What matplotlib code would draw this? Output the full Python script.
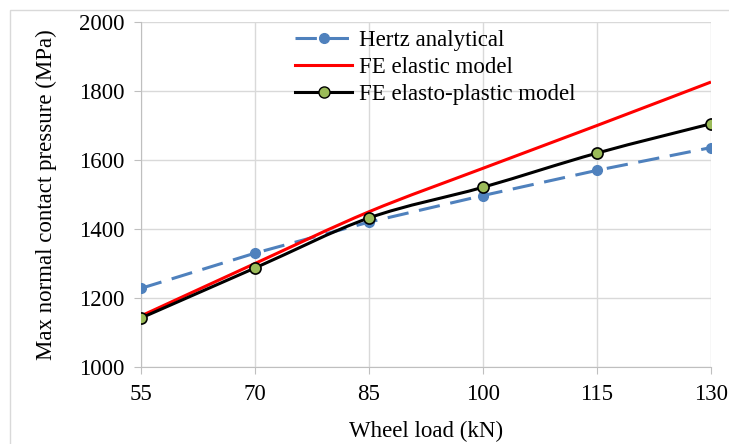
import numpy as np
import matplotlib
matplotlib.use('Agg')
import matplotlib.pyplot as plt
from matplotlib.path import Path
from matplotlib.patches import PathPatch, Rectangle
from matplotlib.lines import Line2D

plt.rcParams['font.family'] = ['Liberation Serif', 'DejaVu Serif']

load = [55, 70, 85, 100, 115, 130]
hertz = [1228, 1330, 1420, 1497, 1570, 1636]
fe_elastic = [1148, 1300, 1450, 1576, 1700, 1826]
fe_plastic = [1142, 1287, 1432, 1521, 1620, 1705]


def smooth_path(x, y, t=1.0 / 6):
    # Excel-like smoothed line: Bezier through the points
    x = np.asarray(x, float)
    y = np.asarray(y, float)
    verts = [(x[0], y[0])]
    codes = [Path.MOVETO]
    n = len(x)
    for i in range(n - 1):
        i0 = max(i - 1, 0)
        i3 = min(i + 2, n - 1)
        c1 = (x[i] + (x[i + 1] - x[i0]) * t, y[i] + (y[i + 1] - y[i0]) * t)
        c2 = (x[i + 1] - (x[i3] - x[i]) * t, y[i + 1] - (y[i3] - y[i]) * t)
        verts += [c1, c2, (x[i + 1], y[i + 1])]
        codes += [Path.CURVE4] * 3
    return Path(verts, codes)


fig = plt.figure(figsize=(7.29, 4.44), dpi=100)
ax = fig.add_axes([141 / 729, 1 - 367 / 444, 570 / 729, 345 / 444])

fig.patches.append(Rectangle((10 / 729, -0.1), 1.2, 1 - 10 / 444 + 0.1,
                             transform=fig.transFigure, fill=False,
                             edgecolor='#d9d9d9', linewidth=1))

ax.set_xlim(55, 130)
ax.set_ylim(1000, 2000)
ax.set_xticks(load)
ax.set_yticks(np.arange(1000, 2001, 200))
ax.grid(True, color='#d9d9d9', linewidth=1)
ax.set_axisbelow(True)
for s in ['top', 'right']:
    ax.spines[s].set_visible(False)
for s in ['left', 'bottom']:
    ax.spines[s].set_color('#bfbfbf')
ax.tick_params(direction='out', length=5, color='#bfbfbf', labelsize=16.5, pad=7)

ax.plot(load, hertz, color='#4f81bd', linewidth=2.2, dashes=(7, 3.5),
        marker='o', markersize=7, zorder=3)
ax.add_patch(PathPatch(smooth_path(load, fe_elastic), fill=False,
                       edgecolor='#ff0000', linewidth=2.2, zorder=4))
ax.add_patch(PathPatch(smooth_path(load, fe_plastic), fill=False,
                       edgecolor='black', linewidth=2.2, zorder=5))
ax.plot(load, fe_plastic, linestyle='none', marker='o', markersize=8,
        markerfacecolor='#9bbb59', markeredgecolor='black', markeredgewidth=1.2,
        zorder=6)

ax.set_xlabel('Wheel load (kN)', fontsize=16.5, labelpad=12)
ax.set_ylabel('Max normal contact pressure (MPa)', fontsize=16.5, labelpad=16)

handles = [
    Line2D([], [], color='#4f81bd', linewidth=2.2, dashes=(7, 3.5),
           marker='o', markersize=7),
    Line2D([], [], color='#ff0000', linewidth=2.2),
    Line2D([], [], color='black', linewidth=2.2, marker='o', markersize=8,
           markerfacecolor='#9bbb59', markeredgecolor='black'),
]
labels = ['Hertz analytical', 'FE elastic model', 'FE elasto-plastic model']
ax.legend(handles, labels, loc='upper left', bbox_to_anchor=(0.25, 1.01),
          frameon=False, fontsize=16.5, handlelength=2.5, handletextpad=0.3,
          labelspacing=0.25, borderaxespad=0.1)

fig.savefig('out.png', dpi=100)
